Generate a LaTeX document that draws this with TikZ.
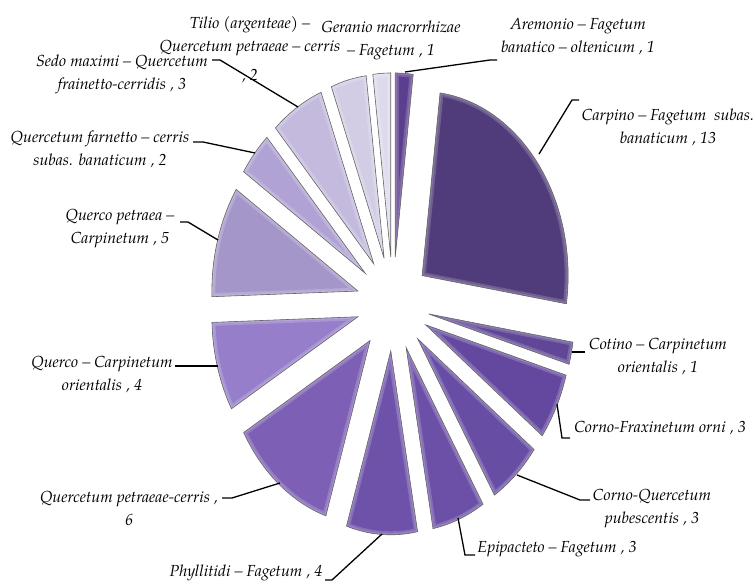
\documentclass[tikz,border=0pt]{standalone}
\usepackage{fontspec}
\setmainfont{TeX Gyre Pagella}
\definecolor{cA}{RGB}{92,62,142}
\definecolor{cB}{RGB}{80,60,122}
\definecolor{cC}{RGB}{95,70,150}
\definecolor{cD}{RGB}{100,72,160}
\definecolor{cE}{RGB}{104,77,165}
\definecolor{cF}{RGB}{108,80,168}
\definecolor{cG}{RGB}{110,82,170}
\definecolor{cH}{RGB}{125,96,182}
\definecolor{cI}{RGB}{150,126,202}
\definecolor{cJ}{RGB}{165,150,202}
\definecolor{cK}{RGB}{176,162,212}
\definecolor{cL}{RGB}{196,186,222}
\definecolor{cM}{RGB}{210,204,228}
\definecolor{cN}{RGB}{222,218,236}
\tikzset{
  lbl/.style={font=\fontsize{16}{23}\selectfont\itshape, align=center, inner sep=0pt},
  leader/.style={draw=black, line width=1.3pt},
}
\begin{document}
\begin{tikzpicture}[x=1pt,y=-1pt]
\useasboundingbox (0,0) rectangle (755,585);
% slices
\foreach \a/\b/\c in {90/82.941/cA, 82.941/-8.824/cB, -8.824/-15.882/cC, -15.882/-37.059/cD,
  -37.059/-58.235/cE, -58.235/-79.412/cF, -79.412/-107.647/cG, -107.647/-150/cH,
  -150/-178.235/cI, -178.235/-213.529/cJ, -213.529/-227.647/cK, -227.647/-248.824/cL,
  -248.824/-262.941/cM, -262.941/-270/cN} {
  \pgfmathsetmacro\m{(\a+\b)/2}
  \coordinate (s) at ({393+36.5*cos(\m)},{303.9-47*sin(\m)});
  \def\slicepath{(s) -- ++(\a:146pt and 184pt) arc[start angle=\a, end angle=\b, x radius=146pt, y radius=184pt] -- cycle}
  \fill[black, opacity=0.18, xshift=1.2pt, yshift=-1.2pt] \slicepath;
  \fill[\c] \slicepath;
  \begin{scope}
    \clip \slicepath;
    \draw[white, opacity=0.18, line width=7pt] \slicepath;
    \draw[white, opacity=0.15, line width=3pt] \slicepath;
  \end{scope}
  \draw[black!60, line width=0.6pt] \slicepath;
}
% labels
\node[lbl] (tilio) at (250,50) {Tilio (argenteae) –\\Quercetum petraeae – cerris\\[6pt], 2};
\node[lbl] (geranio) at (391,40) {Geranio macrorrhizae\\– Fagetum , 1};
\node[lbl] (aremonio) at (578,37) {Aremonio – Fagetum\\banatico – oltenicum , 1};
\node[lbl] (carpino) at (668,127) {Carpino – Fagetum\ \ subas.\\banaticum , 13};
\node[lbl] (sedo) at (122,74) {Sedo maximi – Quercetum\\frainetto-cerridis , 3};
\node[lbl] (farnetto) at (100,149) {Quercetum farnetto – cerris\\subas. banaticum , 2};
\node[lbl] (qpetraea) at (120,229) {Querco petraea –\\Carpinetum , 5};
\node[lbl] (qorient) at (102,374) {Querco – Carpinetum\\orientalis , 4};
\node[lbl] (qpc) at (129,508) {Quercetum petraeae-cerris ,\\6};
\node[lbl] (phyl) at (246,573) {Phyllitidi – Fagetum , 4};
\node[lbl] (epi) at (557,549) {Epipacteto – Fagetum , 3};
\node[lbl] (cq) at (652,509) {Corno-Quercetum\\pubescentis , 3};
\node[lbl] (cf) at (660,428) {Corno-Fraxinetum orni , 3};
\node[lbl] (cotino) at (658,356) {Cotino – Carpinetum\\orientalis , 1};
% leader coordinates
\coordinate (aS) at (405,72);  \coordinate (aK) at (490,60);  \coordinate (aE) at (497,60);
\coordinate (bS) at (539,154); \coordinate (bK) at (572,100); \coordinate (bE) at (579,100);
\coordinate (cS) at (572,352); \coordinate (cE) at (585,352);
\coordinate (dS) at (557,404); \coordinate (dK) at (562,438); \coordinate (dE) at (570,438);
\coordinate (eS) at (517,475); \coordinate (eK) at (580,500); \coordinate (eE) at (590,500);
\coordinate (fS) at (458,518); \coordinate (fK) at (465,555); \coordinate (fE) at (475,555);
\coordinate (gS) at (382,534); \coordinate (gK) at (332,580); \coordinate (gE) at (325,580);
\coordinate (hS) at (280,483); \coordinate (hK) at (232,498); \coordinate (hE) at (222,498);
\coordinate (iS) at (218,366); \coordinate (iE) at (175,366);
\coordinate (jS) at (218,240); \coordinate (jK) at (188,222); \coordinate (jE) at (180,222);
\coordinate (kS) at (255,153); \coordinate (kK) at (203,142); \coordinate (kE) at (193,142);
\coordinate (lS) at (298,107); \coordinate (lK) at (220,60);  \coordinate (lE) at (212,60);
\draw[leader] (aS) -- (aK) -- (aE);
\draw[leader] (bS) -- (bK) -- (bE);
\draw[leader] (cS) -- (cE);
\draw[leader] (dS) -- (dK) -- (dE);
\draw[leader] (eS) -- (eK) -- (eE);
\draw[leader] (fS) -- (fK) -- (fE);
\draw[leader] (gS) -- (gK) -- (gE);
\draw[leader] (hS) -- (hK) -- (hE);
\draw[leader] (iS) -- (iE);
\draw[leader] (jS) -- (jK) -- (jE);
\draw[leader] (kS) -- (kK) -- (kE);
\draw[leader] (lS) -- (lK) -- (lE);
\end{tikzpicture}
\end{document}
